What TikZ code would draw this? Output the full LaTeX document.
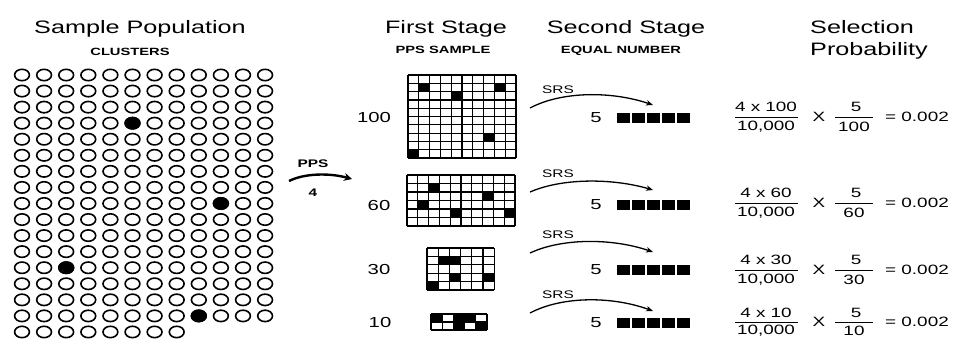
\documentclass[tikz,border=0pt]{standalone}
\usepackage{fontspec}
\setmainfont{Liberation Sans}[FakeStretch=1.4]
\usetikzlibrary{arrows.meta}
\begin{document}
\begin{tikzpicture}[x=1pt,y=1pt,
  hdr/.style={font=\fontsize{18}{20}\selectfont, inner sep=0pt, anchor=base},
  sublbl/.style={font=\bfseries\fontsize{10.5}{12}\selectfont, inner sep=0pt, anchor=base},
  rowlbl/.style={font=\fontsize{14.5}{16}\selectfont, inner sep=0pt},
  frm/.style={font=\fontsize{13.5}{15}\selectfont, inner sep=0pt},
  srslbl/.style={font=\fontsize{11}{12}\selectfont, inner sep=0pt},
  ppslbl/.style={font=\bfseries\fontsize{11}{12}\selectfont, inner sep=0pt},
  clus/.style={line width=1.6pt},
  gridln/.style={line width=1.2pt},
  srsarrow/.style={line width=1.3pt, -{Stealth[length=7pt,width=5.5pt]}},
  ppsarrow/.style={line width=2.4pt, -{Stealth[length=8pt,width=8pt]}},
  fracln/.style={line width=0.9pt}
]
\useasboundingbox (0,0) rectangle (959,-338);
\fill[white] (0,0) rectangle (959,-338);

% headers
\node[hdr] (hpop) at (140,-33) {Sample Population};
\node[sublbl] (hclus) at (130,-55) {CLUSTERS};
\node[hdr] (hfirst) at (446,-33) {First Stage};
\node[sublbl] (hpps) at (443,-53) {PPS SAMPLE};
\node[hdr] (hsecond) at (626,-33) {Second Stage};
\node[sublbl] (hequal) at (621,-53) {EQUAL NUMBER};
\node[hdr, anchor=base west] (hsel) at (810,-33) {Selection};
\node[hdr, anchor=base west] (hprob) at (810,-55) {Probability};

% population of clusters
\foreach \r in {1,...,16}
  \foreach \c in {1,...,12}
    \draw[clus] ({22+(\c-1)*22.1},{-(75+(\r-1)*16.06)}) ellipse [x radius=7.4, y radius=5.7];
\foreach \c in {1,...,8}
  \draw[clus] ({22+(\c-1)*22.1},{-(75+16*16.06)}) ellipse [x radius=7.4, y radius=5.7];
\foreach \c/\r in {6/4,10/9,3/13,9/16}
  \fill ({22+(\c-1)*22.1},{-(75+(\r-1)*16.06)}) ellipse [x radius=8.2, y radius=6.5];

% PPS arrow
\coordinate (ppsa) at (289,-181);
\coordinate (ppsb) at (352,-179);
\draw[ppsarrow] (ppsa) .. controls (305,-173) and (330,-173) .. (ppsb);
\node[ppslbl] (ppst) at (313,-164) {PPS};
\node[ppslbl] (ppsn) at (313,-193) {4};

% row labels
\node[rowlbl] (l100) at (374,-118) {100};
\node[rowlbl] (l60) at (379,-206) {60};
\node[rowlbl] (l30) at (379,-270) {30};
\node[rowlbl] (l10) at (380,-323) {10};

% grid 100
\begin{scope}[shift={(408,-75)}]
  \foreach \c/\r in {2/2,5/3,9/2,8/8,1/10}
    \fill ({(\c-1)*10.8},{-(\r-1)*8.3}) rectangle ++(10.8,-8.3);
  \foreach \i in {0,...,10} \draw[gridln] (\i*10.8,0) -- (\i*10.8,-83);
  \foreach \j in {0,...,10} \draw[gridln] (0,-\j*8.3) -- (108,-\j*8.3);
\end{scope}
% grid 60
\begin{scope}[shift={(407,-175)}]
  \foreach \c/\r in {3/2,8/3,2/4,5/5,10/5}
    \fill ({(\c-1)*10.8},{-(\r-1)*8.5}) rectangle ++(10.8,-8.5);
  \foreach \i in {0,...,10} \draw[gridln] (\i*10.8,0) -- (\i*10.8,-51);
  \foreach \j in {0,...,6} \draw[gridln] (0,-\j*8.5) -- (108,-\j*8.5);
\end{scope}
% grid 30
\begin{scope}[shift={(427,-248)}]
  \foreach \c/\r in {2/2,3/2,3/4,6/4,1/5}
    \fill ({(\c-1)*11.2},{-(\r-1)*8.4}) rectangle ++(11.2,-8.4);
  \foreach \i in {0,...,6} \draw[gridln] (\i*11.2,0) -- (\i*11.2,-42);
  \foreach \j in {0,...,5} \draw[gridln] (0,-\j*8.4) -- (67.2,-\j*8.4);
\end{scope}
% grid 10
\begin{scope}[shift={(431,-314)}]
  \foreach \c/\r in {1/1,3/1,4/1,3/2,5/2}
    \fill ({(\c-1)*11.2},{-(\r-1)*8}) rectangle ++(11.2,-8);
  \foreach \i in {0,...,5} \draw[gridln] (\i*11.2,0) -- (\i*11.2,-16);
  \foreach \j in {0,...,2} \draw[gridln] (0,-\j*8) -- (56,-\j*8);
\end{scope}

% SRS arrows, second-stage samples, selection probabilities
\foreach \n/\ya/\yb/\yp/\ys/\yf/\dn/\dd/\nm in {1/108/105/91/118/117/10/10/100, 2/192/190/178/205/203/10/10/60, 3/253/252/238/270/270/10/10/30, 4/313/311/296/323/322/9.5/9/10}{
  \coordinate (sa\n) at (530,-\ya);
  \coordinate (sb\n) at (653,-\yb);
  \draw[srsarrow] (sa\n) .. controls (562,-\yp) and (612,-\yp) .. (sb\n);
  \node[srslbl] (srs\n) at (558,{-(\ya-18)}) {SRS};
  \node[rowlbl] (five\n) at (596,-\ys) {5};
  \foreach \k in {0,...,4}
    \fill (617+\k*15,{-(\ys-4.8)}) rectangle ++(13,-9.6);
  \node[frm] (num\n) at (766,{-(\yf-\dn)}) {4 x \nm};
  \node[frm] (den\n) at (766,{-(\yf+\dd)}) {10,000};
  \draw[fracln] (735,-\yf) -- (798,-\yf);
  \node[frm] (times\n) at (819,-\yf) {X};
  \node[frm] (fnum\n) at (856,{-(\yf-\dn)}) {5};
  \node[frm] (fden\n) at (854,{-(\yf+\dd)}) {\nm};
  \draw[fracln] (835,-\yf) -- (873,-\yf);
  \node[frm, anchor=west] (res\n) at (885,-\yf) {= 0.002};
}
\end{tikzpicture}
\end{document}
